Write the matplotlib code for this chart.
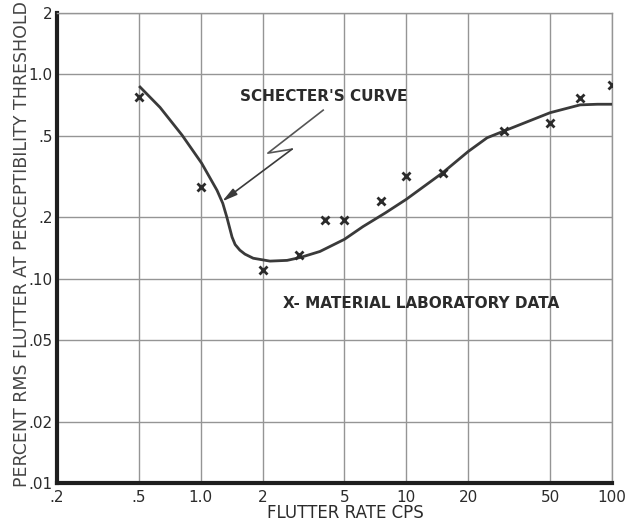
import matplotlib
matplotlib.use("Agg")
import matplotlib.pyplot as plt

# Schecter's curve
curve_rate = [0.507, 0.634, 0.811, 1.01, 1.2, 1.28, 1.34, 1.42, 1.47, 1.55,
              1.64, 1.8, 2.17, 2.63, 3.04, 3.8, 5.0, 6.15, 7.9, 10, 15, 20,
              24.7, 30, 36, 50, 70, 85, 100]
curve_flutter = [0.868, 0.69, 0.505, 0.368, 0.271, 0.234, 0.2, 0.16, 0.147,
                 0.138, 0.132, 0.126, 0.122, 0.123, 0.127, 0.136, 0.156, 0.18,
                 0.21, 0.245, 0.33, 0.42, 0.49, 0.53, 0.57, 0.65, 0.71, 0.715,
                 0.715]

# material laboratory measurements
lab_rate = [0.5, 1.0, 2, 3, 4, 5, 7.5, 10, 15, 30, 50, 70, 100]
lab_flutter = [0.78, 0.28, 0.11, 0.13, 0.195, 0.195, 0.24, 0.32, 0.33,
               0.53, 0.58, 0.77, 0.89]

x_ticks = [0.2, 0.5, 1.0, 2, 5, 10, 20, 50, 100]
x_ticklabels = [".2", ".5", "1.0", "2", "5", "10", "20", "50", "100"]
y_ticks = [0.01, 0.02, 0.05, 0.10, 0.2, 0.5, 1.0, 2]
y_ticklabels = [".01", ".02", ".05", ".10", ".2", ".5", "1.0", "2"]

ink = "#2b2b2b"
gridc = "#959595"

fig = plt.figure(figsize=(6.4, 5.25), dpi=100)
ax = fig.add_axes([57 / 640, 42 / 525, 555 / 640, 470 / 525])
ax.set_xscale("log")
ax.set_yscale("log")
ax.set_xlim(0.2, 100)
ax.set_ylim(0.01, 2)

ax.set_xticks(x_ticks)
ax.set_xticklabels(x_ticklabels)
ax.set_yticks(y_ticks)
ax.set_yticklabels(y_ticklabels)
ax.minorticks_off()
ax.tick_params(length=0, labelsize=11, colors=ink)
ax.tick_params(axis="x", pad=5)
ax.tick_params(axis="y", pad=3)
ax.grid(True, color=gridc, lw=1.0)
ax.set_axisbelow(True)

for side in ("left", "bottom"):
    ax.spines[side].set_linewidth(3)
    ax.spines[side].set_color("#1e1e1e")
for side in ("top", "right"):
    ax.spines[side].set_linewidth(1.0)
    ax.spines[side].set_color(gridc)

ax.plot(curve_rate, curve_flutter, color="#3a3a3a", lw=2.0, zorder=3)
ax.plot(lab_rate, lab_flutter, "x", color=ink, ms=6, mew=2.0, zorder=4)

# zig-zag pointer from the label down to the curve
ax.plot([3.94, 2.12, 2.78], [0.669, 0.412, 0.431], color="#555555", lw=1.2)
ax.annotate("", xy=(1.27, 0.239), xytext=(2.78, 0.431),
            arrowprops=dict(arrowstyle="-|>,head_length=0.9,head_width=0.22",
                            color="#3a3a3a", lw=1.2, shrinkA=0, shrinkB=0))

ax.text(1.55, 0.78, "SCHECTER'S CURVE", fontsize=11, fontweight="bold",
        color=ink, ha="left", va="center")
ax.text(2.52, 0.0757, "X- MATERIAL LABORATORY DATA", fontsize=11,
        fontweight="bold", color=ink, ha="left", va="center")

fig.text(345 / 640, 1 - 513 / 525, "FLUTTER RATE CPS", fontsize=12,
         color=ink, ha="center", va="center")
fig.text(22 / 640, 1 - 487 / 525,
         "PERCENT RMS FLUTTER AT PERCEPTIBILITY THRESHOLD",
         fontsize=12.5, color="#444444", rotation=90, ha="center", va="bottom")

fig.savefig("out.png", dpi=100, facecolor="white")
